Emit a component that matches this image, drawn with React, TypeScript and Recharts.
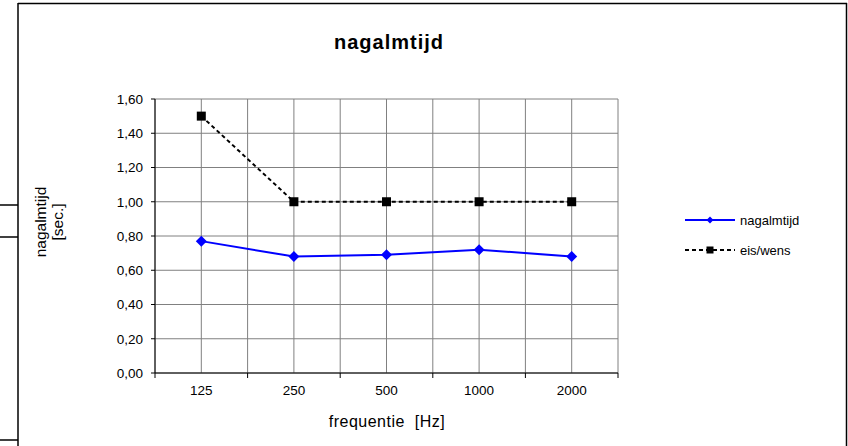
import React from 'react';
import { LineChart, Line, XAxis, YAxis, CartesianGrid } from 'recharts';

const frequencies = ['125', '250', '500', '1000', '2000'];
const nagalmtijd = [0.77, 0.68, 0.69, 0.72, 0.68];
const eisWens = [1.5, 1.0, 1.0, 1.0, 1.0];
const yTicks = [0, 0.2, 0.4, 0.6, 0.8, 1.0, 1.2, 1.4, 1.6];

const data = frequencies.map((f, i) => ({
  idx: i,
  freq: f,
  nagalmtijd: nagalmtijd[i],
  eis: eisWens[i],
}));

// gridlines/ticks sit on category centres and on the boundaries between them
const xTicks: number[] = [];
for (let i = -0.5; i <= frequencies.length - 0.5; i += 0.5) xTicks.push(i);

const FONT = '"Liberation Sans", Arial, sans-serif';

const Diamond = ({ cx, cy, size = 5, fill }: any) => {
  if (cx == null || cy == null) return null;
  return (
    <polygon
      points={`${cx},${cy - size} ${cx + size},${cy} ${cx},${cy + size} ${cx - size},${cy}`}
      fill={fill}
    />
  );
};

const Square = ({ cx, cy, size = 4, fill }: any) => {
  if (cx == null || cy == null) return null;
  return <rect x={cx - size} y={cy - size} width={size * 2} height={size * 2} fill={fill} />;
};

const FreqTick = ({ x, y, payload }: any) => {
  const v = payload.value;
  if (Number.isInteger(v)) {
    return (
      <text x={x} y={y + 22} textAnchor="middle" fontSize={13.5} fill="#000" fontFamily={FONT}>
        {frequencies[v]}
      </text>
    );
  }
  return <line x1={x} y1={y} x2={x} y2={y + 5} stroke="#000" />;
};

export default function App() {
  return (
    <div style={{ position: 'absolute', left: 0, top: 0, width: 848, height: 446, background: '#fff' }}>
      <LineChart
        width={848}
        height={446}
        data={data}
        margin={{ top: 99, right: 230, bottom: 43, left: 95 }}
      >
        <CartesianGrid stroke="#808080" strokeWidth={1} />
        <XAxis
          type="number"
          dataKey="idx"
          domain={[-0.5, frequencies.length - 0.5]}
          ticks={xTicks}
          interval={0}
          height={30}
          tickSize={0}
          tickMargin={0}
          tickLine={false}
          axisLine={{ stroke: '#000' }}
          tick={<FreqTick />}
        />
        <YAxis
          domain={[0, 1.6]}
          ticks={yTicks}
          interval={0}
          width={60}
          tickSize={4}
          tickMargin={8}
          axisLine={{ stroke: '#000' }}
          tickLine={{ stroke: '#000' }}
          tick={{ fill: '#000', fontSize: 13.5, fontFamily: FONT }}
          tickFormatter={(v: number) => v.toFixed(2).replace('.', ',')}
        />
        <Line
          dataKey="nagalmtijd"
          stroke="#0000ff"
          strokeWidth={2}
          dot={<Diamond fill="#0000ff" size={5.5} />}
          activeDot={false}
          isAnimationActive={false}
        />
        <Line
          dataKey="eis"
          stroke="#000"
          strokeWidth={2}
          strokeDasharray="4 3"
          dot={<Square fill="#000" size={4.5} />}
          activeDot={false}
          isAnimationActive={false}
        />
      </LineChart>

      <svg
        width={848}
        height={446}
        style={{ position: 'absolute', left: 0, top: 0, pointerEvents: 'none' }}
      >
        {/* outer frame and the bits of table border left of it */}
        <line x1={18} y1={3.5} x2={847} y2={3.5} stroke="#000" strokeWidth={1.5} />
        <line x1={18} y1={3} x2={18} y2={446} stroke="#000" strokeWidth={1.5} />
        <line x1={846.5} y1={3} x2={846.5} y2={446} stroke="#000" strokeWidth={1.5} />
        <line x1={0} y1={205} x2={18} y2={205} stroke="#000" strokeWidth={1.5} />
        <line x1={0} y1={237} x2={18} y2={237} stroke="#000" strokeWidth={1.5} />
        <line x1={0} y1={440} x2={18} y2={440} stroke="#000" strokeWidth={1.5} />

        <text x={389} y={49} textAnchor="middle" fontSize={20} fontWeight="bold" letterSpacing={1} fontFamily={FONT} fill="#000">
          nagalmtijd
        </text>

        <text x={387} y={427} textAnchor="middle" fontSize={16} letterSpacing={0.5} fontFamily={FONT} fill="#000" style={{ whiteSpace: 'pre' }}>
          {'frequentie  [Hz]'}
        </text>

        <g transform="translate(51,222) rotate(-90)">
          <text x={0} y={-5} textAnchor="middle" fontSize={15.5} fontFamily={FONT} fill="#000">nagalmtijd</text>
          <text x={0} y={12} textAnchor="middle" fontSize={15.5} fontFamily={FONT} fill="#000">[sec.]</text>
        </g>

        {/* legend */}
        <line x1={685} y1={220} x2={735} y2={220} stroke="#0000ff" strokeWidth={2} />
        <Diamond cx={710} cy={220} size={3.5} fill="#0000ff" />
        <text x={740} y={224.5} fontSize={13} fontFamily={FONT} fill="#000">nagalmtijd</text>

        <line x1={685} y1={250} x2={735} y2={250} stroke="#000" strokeWidth={2} strokeDasharray="4 3" />
        <Square cx={710} cy={250} size={3.5} fill="#000" />
        <text x={740} y={254.5} fontSize={13} fontFamily={FONT} fill="#000">eis/wens</text>
      </svg>
    </div>
  );
}
